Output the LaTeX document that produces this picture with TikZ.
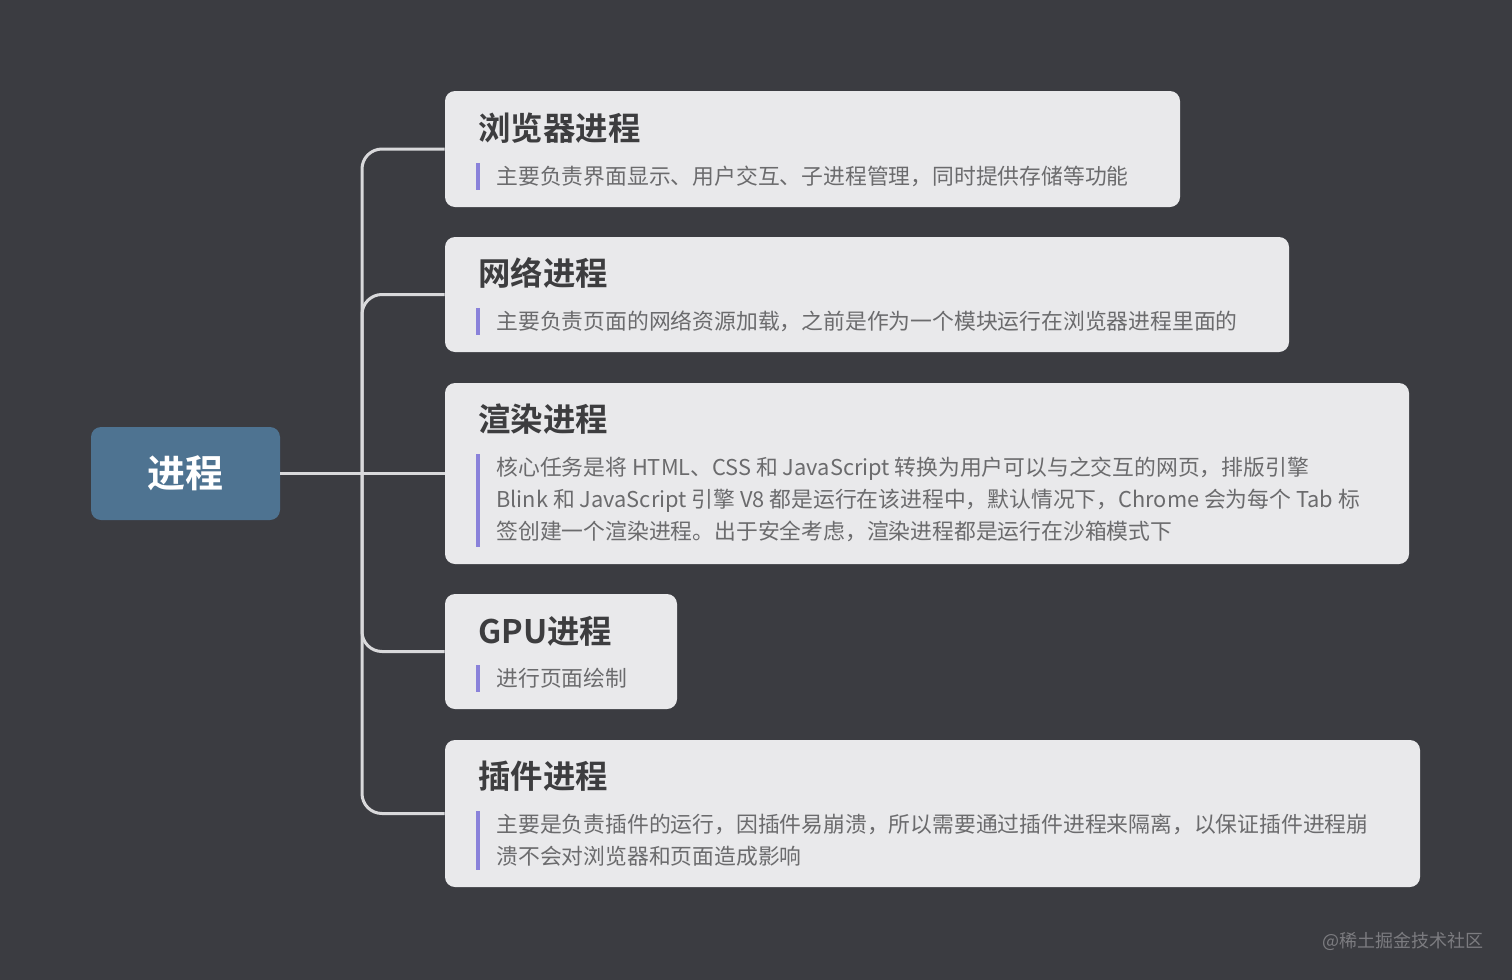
\documentclass[tikz,border=0pt]{standalone}
\usepackage{fontspec}
\setmainfont{Noto Sans CJK SC}[BoldFont={Noto Sans CJK SC Bold}]
\usetikzlibrary{fit}
\definecolor{bgc}{HTML}{3B3C41}
\definecolor{boxc}{HTML}{E9E9EB}
\definecolor{rootc}{HTML}{4E7391}
\definecolor{titlec}{HTML}{3D3D3F}
\definecolor{bodyc}{HTML}{6B6B6D}
\definecolor{barc}{HTML}{8A82DA}
\definecolor{connc}{HTML}{D9D9DB}
\definecolor{markc}{HTML}{7C7C80}
\tikzset{
  box/.style={fill=boxc, draw=none, rounded corners=5pt, inner sep=0pt},
  rootbox/.style={fill=rootc, draw=none, rounded corners=5pt, inner sep=0pt},
  ttl/.style={anchor=base west, inner sep=0pt, text=titlec, font=\fontsize{16.2pt}{20pt}\selectfont\bfseries},
  body/.style={anchor=base west, inner sep=0pt, text=bodyc, font=\fontsize{10.9pt}{14pt}\selectfont},
  bar/.style={draw=barc, line width=1.6pt},
  conn/.style={draw=connc, line width=1.5pt, rounded corners=10pt},
}
\begin{document}
\begin{tikzpicture}[x=0.5pt,y=-0.5pt]
\fill[bgc] (0,0) rectangle (1512,980);
\useasboundingbox (0,0) rectangle (1512,980);

% boxes
\node[rootbox, fit={(91,427) (280,520)}] (root) {};
\node[inner sep=0pt, text=white, font=\fontsize{19pt}{22pt}\selectfont\bfseries] (roott) at (185,473) {进程};

\node[box, fit={(445,91) (1180,207)}] (b1) {};
\node[box, fit={(445,237) (1289,352)}] (b2) {};
\node[box, fit={(445,383) (1409,564)}] (b3) {};
\node[box, fit={(445,594) (677,709)}] (b4) {};
\node[box, fit={(445,740) (1420,887)}] (b5) {};

% connectors
\coordinate (trunk) at (362,473);
\draw[conn] (root.east) -- (b3.west);
\draw[conn] (trunk) |- (b1.west);
\draw[conn] (trunk) |- (b2.west);
\draw[conn] (trunk) |- (b4.west);
\draw[conn] (trunk) |- (b5.west);

% box 1
\node[ttl] (t1) at (478,140) {浏览器进程};
\draw[bar] (478,163) -- (478,190);
\node[body] (d1) at (496,184) {主要负责界面显示、用户交互、子进程管理，同时提供存储等功能};

% box 2
\node[ttl] (t2) at (478,285) {网络进程};
\draw[bar] (478,308) -- (478,335);
\node[body] (d2) at (496,329) {主要负责页面的网络资源加载，之前是作为一个模块运行在浏览器进程里面的};

% box 3
\node[ttl] (t3) at (478,431) {渲染进程};
\draw[bar] (478,454) -- (478,547);
\node[body] (d3a) at (496,475) {核心任务是将 HTML、CSS 和 JavaScript 转换为用户可以与之交互的网页，排版引擎};
\node[body] (d3b) at (496,507) {Blink 和 JavaScript 引擎 V8 都是运行在该进程中，默认情况下，Chrome 会为每个 Tab 标};
\node[body] (d3c) at (496,539) {签创建一个渲染进程。出于安全考虑，渲染进程都是运行在沙箱模式下};

% box 4
\node[ttl] (t4) at (478,643) {GPU进程};
\draw[bar] (478,665) -- (478,692);
\node[body] (d4) at (496,686) {进行页面绘制};

% box 5
\node[ttl] (t5) at (478,788) {插件进程};
\draw[bar] (478,811) -- (478,870);
\node[body] (d5a) at (496,832) {主要是负责插件的运行，因插件易崩溃，所以需要通过插件进程来隔离，以保证插件进程崩};
\node[body] (d5b) at (496,864) {溃不会对浏览器和页面造成影响};

% watermark
\node[anchor=base east, inner sep=0pt, text=markc, font=\fontsize{9pt}{11pt}\selectfont] (wm) at (1484,947) {@稀土掘金技术社区};
\end{tikzpicture}
\end{document}
